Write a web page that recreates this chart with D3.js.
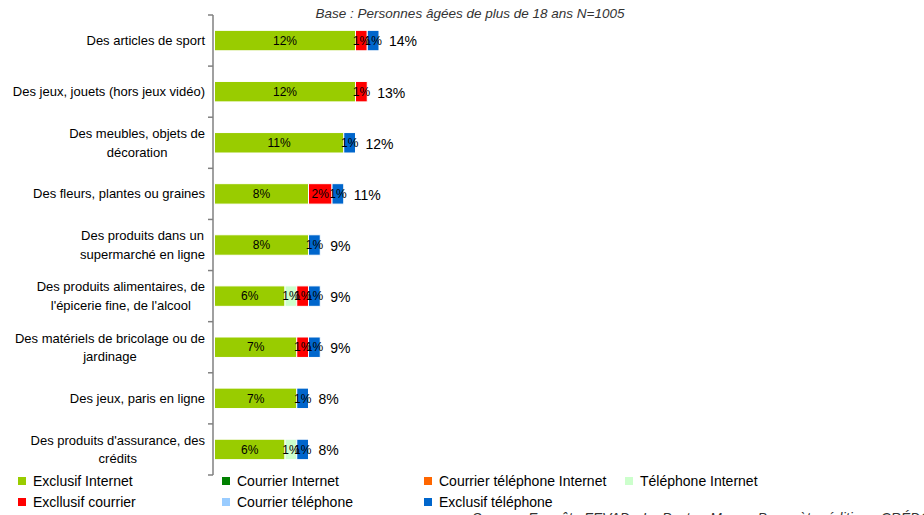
<!DOCTYPE html>
<html>
<head>
<meta charset="utf-8">
<script src="https://cdn.jsdelivr.net/npm/d3@7"></script>
<style>
  html, body { margin: 0; padding: 0; background: #fff; }
  svg { display: block; }
  text { font-family: 'Liberation Sans', Arial, sans-serif; fill: #000; }
</style>
</head>
<body>
<svg id="chart" width="924" height="515"></svg>
<script>
// ---- Data ----
const categories = [
  ["Des articles de sport"],
  ["Des jeux, jouets (hors jeux vidéo)"],
  ["Des meubles, objets de", "décoration"],
  ["Des fleurs, plantes ou graines"],
  ["Des produits dans un", "supermarché en ligne"],
  ["Des produits alimentaires, de", "l'épicerie fine, de l'alcool"],
  ["Des matériels de bricolage ou de", "jardinage"],
  ["Des jeux, paris en ligne"],
  ["Des produits d'assurance, des", "crédits"]
];
const seriesNames = [
  "Exclusif Internet", "Courrier Internet", "Courrier téléphone Internet", "Téléphone Internet",
  "Excllusif courrier", "Courrier téléphone", "Exclusif téléphone"
];
const seriesColors = ["#99CC00", "#008000", "#FF6600", "#CCFFCC", "#FF0000", "#99CCFF", "#0066CC"];
const exclusifInternet   = [12, 12, 11, 8, 8, 6, 7, 7, 6];
const courrierInternet   = [0, 0, 0, 0, 0, 0, 0, 0, 0];
const courrierTelInternet= [0, 0, 0, 0, 0, 0, 0, 0, 0];
const telephoneInternet  = [0, 0, 0, 0, 0, 1, 0, 0, 1];
const exclusifCourrier   = [1, 1, 0, 2, 0, 1, 1, 0, 0];
const courrierTelephone  = [0, 0, 0, 0, 0, 0, 0, 0, 0];
const exclusifTelephone  = [1, 0, 1, 1, 1, 1, 1, 1, 1];
const totals             = [14, 13, 12, 11, 9, 9, 9, 8, 8];
const baseNote = "Base : Personnes âgées de plus de 18 ans  N=1005";
const sourceNote = "Source : Enquête FEVAD - La Poste - Mapp - Baromètre édition - CRÉDOC, 2010";

const seriesValues = [exclusifInternet, courrierInternet, courrierTelInternet, telephoneInternet,
  exclusifCourrier, courrierTelephone, exclusifTelephone];

// ---- Build table ----
const table = categories.map((c, i) => {
  const row = { idx: i };
  seriesNames.forEach((s, j) => row[s] = seriesValues[j][i]);
  return row;
});
const stacked = d3.stack().keys(seriesNames)(table);

const svg = d3.select("#chart");
const axisX = 213;
const y = d3.scaleBand().domain(d3.range(categories.length)).range([15, 475]).paddingInner(0.6).paddingOuter(0.3);
const yOuter = d3.scaleBand().domain(d3.range(categories.length)).range([15, 475]);
const x = d3.scaleLinear().domain([0, 20]).range([axisX + 1.5, axisX + 1.5 + 20 * 11.75]);

// Bars
const color = d3.scaleOrdinal().domain(seriesNames).range(seriesColors);
const g = svg.append("g");
stacked.forEach(layer => {
  layer.forEach((d, i) => {
    const v = d[1] - d[0];
    if (v <= 0) return;
    g.append("rect")
      .attr("x", x(d[0]))
      .attr("y", y(i))
      .attr("width", x(d[1]) - x(d[0]))
      .attr("height", y.bandwidth())
      .attr("fill", color(layer.key))
      .attr("stroke", "#fff")
      .attr("stroke-width", 1);
  });
});
// Segment labels
stacked.forEach(layer => {
  layer.forEach((d, i) => {
    const v = d[1] - d[0];
    if (v <= 0) return;
    g.append("text")
      .attr("x", (x(d[0]) + x(d[1])) / 2)
      .attr("y", y(i) + y.bandwidth() / 2)
      .attr("dy", "0.35em")
      .attr("text-anchor", "middle")
      .style("font-size", "12px")
      .text(v + "%");
  });
});
// Total labels
totals.forEach((t, i) => {
  g.append("text")
    .attr("x", x(t) + 10)
    .attr("y", y(i) + y.bandwidth() / 2 + 1)
    .attr("dy", "0.35em")
    .style("font-size", "14px")
    .text(t + "%");
});

// Axis
const axis = d3.axisLeft(yOuter).tickSize(0).tickFormat("");
const ax = svg.append("g").attr("transform", `translate(${axisX},0)`).call(axis);
ax.select(".domain").remove();
ax.append("line").attr("x1", 0).attr("x2", 0).attr("y1", 15).attr("y2", 475).attr("stroke", "#808080").attr("stroke-width", 1.5);
ax.selectAll(".bnd").data(d3.range(categories.length + 1)).enter().append("line")
  .attr("x1", -5).attr("x2", 0)
  .attr("y1", i => i < categories.length ? yOuter(i) : 475)
  .attr("y2", i => i < categories.length ? yOuter(i) : 475)
  .attr("stroke", "#808080").attr("stroke-width", 1.5);

// Category labels
const labelRight = 205;
categories.forEach((lines, i) => {
  const cy = y(i) + y.bandwidth() / 2;
  const t = svg.append("text").attr("text-anchor", "middle").style("font-size", "13px");
  const lh = 18.5;
  const y0 = cy - (lines.length - 1) * lh / 2;
  lines.forEach((ln, k) => {
    t.append("tspan").attr("y", y0 + k * lh).attr("dy", "0.35em").text(ln);
  });
  let maxW = 0;
  t.selectAll("tspan").each(function () { maxW = Math.max(maxW, this.getComputedTextLength()); });
  t.selectAll("tspan").attr("x", labelRight - maxW / 2);
});

// Notes
svg.append("text").attr("x", 470).attr("y", 18).attr("text-anchor", "middle")
  .style("font-size", "13.5px").style("font-style", "italic").style("fill", "#333").text(baseNote);
svg.append("text").attr("x", 472).attr("y", 523)
  .style("font-size", "14px").style("font-style", "italic").style("fill", "#333").text(sourceNote);

// Legend
const legendPos = [[18, 481], [222, 481], [424, 481], [625, 481], [18, 502], [222, 502], [424, 502]];
seriesNames.forEach((s, j) => {
  const [lx, ly] = legendPos[j];
  svg.append("rect").attr("x", lx).attr("y", ly - 4).attr("width", 8).attr("height", 8).attr("fill", seriesColors[j]);
  svg.append("text").attr("x", lx + 15).attr("y", ly).attr("dy", "0.35em")
    .style("font-size", "14px").text(s);
});
</script>
</body>
</html>
